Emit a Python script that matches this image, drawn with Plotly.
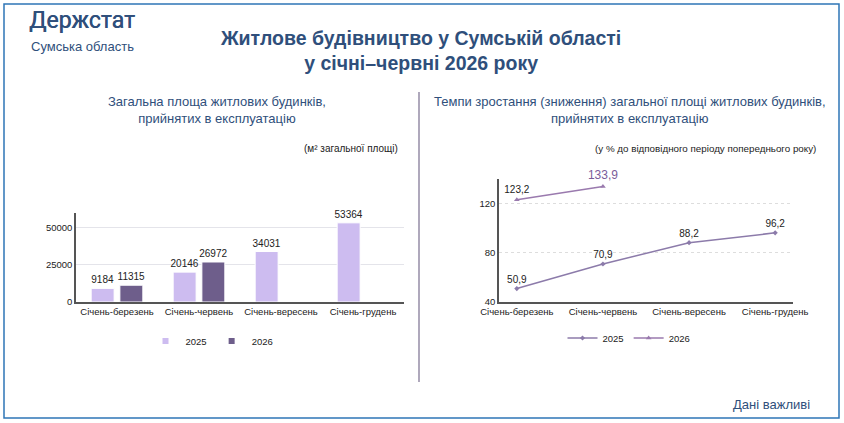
import plotly.graph_objects as go

# data
periods = ["Січень-березень", "Січень-червень", "Січень-вересень", "Січень-грудень"]
area_2025 = [9184, 20146, 34031, 53364]
area_2026 = [11315, 26972, None, None]
rate_2025 = [50.9, 70.9, 88.2, 96.2]
rate_2026 = [123.2, 133.9, None, None]

W, H = 844, 423
FONT = "Liberation Sans, Arial, sans-serif"
BLUE = "#2F4F7B"
C25 = "#CDBCF0"
C26 = "#6E5E8B"


def px_x(x):
    return x / W


def px_y(y):
    return 1 - y / H


def fmt(v):
    return "" if v is None else f"{v:.1f}".replace(".", ",")


fig = go.Figure()

# left: bars
fig.add_trace(go.Bar(
    x=periods, y=area_2025, name="2025", marker_color=C25,
    marker_line=dict(color="white", width=1), showlegend=False,
    text=area_2025, textposition="outside", cliponaxis=False, constraintext="none",
    textfont=dict(size=10, color="#222"), xaxis="x", yaxis="y",
))
fig.add_trace(go.Bar(
    x=periods, y=area_2026, name="2026", marker_color=C26,
    marker_line=dict(color="white", width=1), showlegend=False,
    text=[v if v is not None else "" for v in area_2026], textposition="outside",
    cliponaxis=False, constraintext="none", textfont=dict(size=10, color="#222"),
    xaxis="x", yaxis="y",
))
# small square legend keys for the bars
for name, col in (("2025", C25), ("2026", C26)):
    fig.add_trace(go.Scatter(
        x=[None], y=[None], name=name, mode="markers",
        marker=dict(symbol="square", size=6, color=col),
        xaxis="x", yaxis="y", legend="legend",
    ))

# right: lines
fig.add_trace(go.Scatter(
    x=periods, y=rate_2025, name="2025", mode="lines+markers+text",
    line=dict(color="#8C7BAA", width=1.5),
    marker=dict(symbol="diamond", size=4, color="#8C7BAA"),
    text=[fmt(v) for v in rate_2025], textposition="top center",
    textfont=dict(size=10, color="#222"), cliponaxis=False,
    xaxis="x2", yaxis="y2", legend="legend2",
))
fig.add_trace(go.Scatter(
    x=periods, y=rate_2026, name="2026", mode="lines+markers+text",
    line=dict(color="#9A7AAE", width=1.5),
    marker=dict(symbol="triangle-up", size=5, color="#9A7AAE"),
    text=[fmt(v) for v in rate_2026], textposition="top center",
    textfont=dict(size=[10, 12], color=["#222", "#7A5C99"]), cliponaxis=False,
    xaxis="x2", yaxis="y2", legend="legend2",
))

axis_font = dict(size=9.5, color="#222", family=FONT)

fig.update_layout(
    template="none",
    width=W, height=H, margin=dict(l=0, r=0, t=0, b=0, pad=0),
    paper_bgcolor="white", plot_bgcolor="white",
    font=dict(family=FONT, color="#222"),
    barmode="group", bargap=0.3, bargroupgap=0.2,
    xaxis=dict(domain=[px_x(76), px_x(404)], showline=True, linecolor="#555",
               linewidth=1.5, ticks="", tickfont=axis_font, anchor="y",
               showgrid=False, automargin=False),
    yaxis=dict(domain=[px_y(302), px_y(213)], range=[0, 60000], dtick=25000,
               showline=True, linecolor="#555", linewidth=1.5, ticks="",
               gridcolor="#E4E4EA", tickfont=axis_font, anchor="x",
               zeroline=False, tickformat="d", automargin=False),
    xaxis2=dict(domain=[px_x(499), px_x(793)], showline=True, linecolor="#555",
                linewidth=1.5, ticks="", tickfont=axis_font, anchor="y2",
                showgrid=False, automargin=False),
    yaxis2=dict(domain=[px_y(302), px_y(179)], range=[40, 140], dtick=40,
                showline=True, linecolor="#555", linewidth=1.5, ticks="",
                gridcolor="#DDDDDD", griddash="dot", tickfont=axis_font,
                anchor="x2", zeroline=False, automargin=False),
    legend=dict(orientation="h", x=px_x(212), xanchor="center", y=px_y(341),
                yanchor="middle", font=dict(size=9.5, color="#222"),
                itemwidth=30, bgcolor="rgba(0,0,0,0)"),
    legend2=dict(orientation="h", x=px_x(629), xanchor="center", y=px_y(338),
                 yanchor="middle", font=dict(size=9.5, color="#222"),
                 itemwidth=30, bgcolor="rgba(0,0,0,0)"),
    showlegend=True,
)

# frame and divider
fig.add_shape(type="rect", xref="paper", yref="paper",
              x0=px_x(4), x1=px_x(839), y0=px_y(418), y1=px_y(4),
              line=dict(color="#2E75B6", width=1.5))
fig.add_shape(type="line", xref="paper", yref="paper",
              x0=px_x(419), x1=px_x(419), y0=px_y(92), y1=px_y(382),
              line=dict(color="#7A6F8F", width=1.2))

texts = [
    ("Держстат", 27, 21, "left", 23, BLUE, "Roboto, " + FONT, "0.4px 0 0 " + BLUE),
    ("Сумська область", 29, 46, "left", 13, BLUE, FONT, "none"),
    ("<b>Житлове будівництво у Сумській області<br>у січні–червні 2026 року</b>",
     420, 51, "center", 19.5, BLUE, FONT, "none"),
    ("Загальна площа житлових будинків,<br>прийнятих в експлуатацію",
     217, 110, "center", 13, BLUE, FONT, "none"),
    ("(м² загальної площі)", 400, 148, "right", 10, "#222", FONT, "none"),
    ("Темпи зростання (зниження) загальної площі житлових будинків,<br>прийнятих в експлуатацію",
     630, 110, "center", 13, BLUE, FONT, "none"),
    ("(у % до відповідного періоду попереднього року)", 818, 148, "right", 9.8, "#222", FONT, "none"),
    ("Дані важливі", 812, 404, "right", 13, BLUE, FONT, "none"),
]
for t, x, y, anchor, size, color, fam, shadow in texts:
    fig.add_annotation(text=t, xref="paper", yref="paper", x=px_x(x), y=px_y(y),
                       xanchor=anchor, yanchor="middle", showarrow=False,
                       align=anchor,
                       font=dict(size=size, color=color, family=fam, shadow=shadow))

# page body has a default margin; drop it so the figure sits at 0,0
fig.write_html("out.html", config={"displayModeBar": False},
               post_script="document.body.style.margin='0';")
